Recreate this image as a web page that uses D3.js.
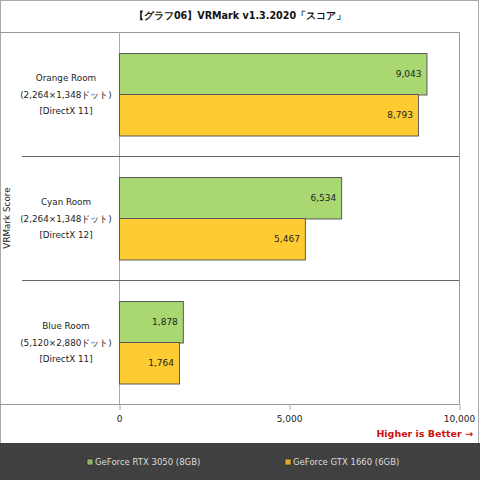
<!DOCTYPE html>
<html><head><meta charset="utf-8">
<script src="https://cdn.jsdelivr.net/npm/d3@7"></script>
<style>html,body{margin:0;padding:0;background:#fff;}svg{display:block;font-family:"DejaVu Sans",Verdana,sans-serif;}</style>
</head><body>
<svg id="c" width="480" height="480"></svg>
<script>
const title = "【グラフ06】VRMark v1.3.2020「スコア」";
const categories = ["Orange Room", "Cyan Room", "Blue Room"];
const resolutions = ["(2,264×1,348ドット)", "(2,264×1,348ドット)", "(5,120×2,880ドット)"];
const apis = ["[DirectX 11]", "[DirectX 12]", "[DirectX 11]"];
const seriesNames = ["GeForce RTX 3050 (8GB)", "GeForce GTX 1660 (6GB)"];
const rtx3050 = [9043, 6534, 1878];
const gtx1660 = [8793, 5467, 1764];
const xTicks = [0, 5000, 10000];
const axisTitle = "VRMark Score";
const note = "Higher is Better →";

const barColors = ["#A9D873", "#FFCB33"];
const legendColors = ["#8CB566", "#E0A925"];

const svg = d3.select("#c");
const L = 119, R = 459, T = 32, B = 404;

svg.append("rect").attr("x",0.5).attr("y",0.5).attr("width",478).attr("height",479)
  .attr("fill","#fff").attr("stroke","#aaa");

svg.append("text").attr("x",240).attr("y",19).attr("text-anchor","middle")
  .attr("font-size",9.6).attr("font-weight","bold").attr("fill","#111").text(title);

const x = d3.scaleLinear().domain([0,10000]).range([L,R]);
const y = d3.scaleBand().domain(categories).range([T,B]);
const ys = d3.scaleBand().domain([0,1]).range([20.5, y.bandwidth()-20.5]);

// frame lines
svg.append("line").attr("x1",0).attr("x2",R).attr("y1",T+0.5).attr("y2",T+0.5).attr("stroke","#999");
svg.append("line").attr("x1",R+0.5).attr("x2",R+0.5).attr("y1",T).attr("y2",B).attr("stroke","#999");
svg.append("line").attr("x1",x(0)+0.5).attr("x2",x(0)+0.5).attr("y1",T).attr("y2",B).attr("stroke","#aaa");
categories.slice(1).forEach(c=>{
  svg.append("line").attr("x1",22).attr("x2",R).attr("y1",Math.round(y(c))+0.5).attr("y2",Math.round(y(c))+0.5).attr("stroke","#666");
});

// bars
const series = [rtx3050, gtx1660];
series.forEach((vals, si) => {
  const g = svg.append("g");
  g.selectAll("rect").data(vals).join("rect")
    .attr("x", x(0)+0.5)
    .attr("y", (d,i) => Math.round(y(categories[i]) + ys(si))+0.5)
    .attr("width", d => x(d)-x(0))
    .attr("height", ys.bandwidth())
    .attr("fill", barColors[si]).attr("stroke","#5a5a5a").attr("stroke-width",1);
  g.selectAll("text").data(vals).join("text")
    .attr("x", d => x(d)-5)
    .attr("y", (d,i) => y(categories[i]) + ys(si) + ys.bandwidth()/2 + 3.5)
    .attr("text-anchor","end").attr("font-size",9).attr("fill","#222")
    .text(d => d3.format(",")(d));
});

// category labels
categories.forEach((c,i)=>{
  const cy = y(c) + y.bandwidth()/2;
  const lines = [c, resolutions[i], apis[i]];
  lines.forEach((t,j)=>{
    svg.append("text").attr("x",66).attr("y",cy + (j-1)*16.5 + 3.5)
      .attr("text-anchor","middle").attr("font-size",8.8).attr("fill","#222").text(t);
  });
});

// x axis
svg.append("line").attr("x1",0).attr("x2",R).attr("y1",B+0.5).attr("y2",B+0.5).attr("stroke","#999");
const ax = svg.append("g").attr("transform",`translate(0,${B})`)
  .call(d3.axisBottom(x).tickValues(xTicks).tickFormat(d3.format(",")).tickSize(6).tickPadding(6));
ax.select(".domain").remove();
ax.selectAll("line").attr("stroke","#aaa").attr("transform","translate(0.5,0)");
ax.selectAll("text").attr("font-size",9).attr("fill","#222").attr("font-family","DejaVu Sans, sans-serif");

// y axis title
svg.append("text").attr("transform",`translate(10,${(T+B)/2}) rotate(-90)`)
  .attr("text-anchor","middle").attr("font-size",8.8).attr("fill","#222").text(axisTitle);

// note
svg.append("text").attr("x",473).attr("y",437).attr("text-anchor","end")
  .attr("font-size",9.5).attr("font-weight","bold").attr("fill","#CC1111").text(note);

// legend
svg.append("rect").attr("x",0).attr("y",443).attr("width",480).attr("height",37).attr("fill","#404040");
const legX = [87, 285];
seriesNames.forEach((n,i)=>{
  svg.append("rect").attr("x",legX[i]).attr("y",459).attr("width",6).attr("height",6)
    .attr("fill",legendColors[i]).attr("stroke","#111").attr("stroke-width",0.5);
  svg.append("text").attr("x",legX[i]+8).attr("y",465).attr("font-size",8.5)
    .attr("fill","#ddd").text(n);
});
</script>
</body></html>
